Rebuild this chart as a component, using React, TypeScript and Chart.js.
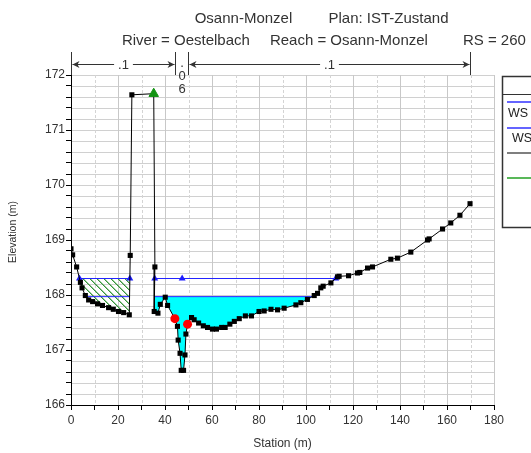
import React, { useEffect, useRef } from 'react';
import { Chart, registerables } from 'chart.js';

Chart.register(...registerables);

const FONT = "'Liberation Sans', Arial, Helvetica, sans-serif";

// Ground profile (station m, elevation m)
const stations = [0, 0.7, 2.4, 4.0, 4.7, 6.1, 7.5, 9.2, 11.3, 13.4, 16.0, 18.0, 20.2, 22.4, 24.8, 25.2, 25.9, 35.2, 35.7, 35.4, 37.0, 38.0, 40.1, 41.1, 44.2, 45.3, 45.6, 46.4, 46.9, 47.9, 48.5, 48.9, 49.6, 51.3, 52.4, 54.3, 56.3, 58.1, 60.2, 61.9, 64.1, 65.6, 67.6, 69.5, 71.6, 74.2, 76.8, 80.0, 82.2, 85.1, 87.9, 90.7, 95.7, 97.8, 100.6, 103.5, 104.9, 106.3, 107.3, 110.6, 113.4, 114.1, 118.1, 121.9, 122.9, 126.2, 128.3, 136.1, 138.9, 144.6, 151.7, 152.4, 158.1, 161.6, 165.5, 169.8];
const elevations = [168.84, 168.73, 168.51, 168.23, 168.13, 167.99, 167.91, 167.88, 167.84, 167.81, 167.77, 167.74, 167.70, 167.68, 167.64, 168.72, 171.64, 171.66, 168.51, 167.70, 167.67, 167.83, 167.96, 167.81, 167.57, 167.43, 167.18, 166.94, 166.63, 166.63, 166.91, 167.29, 167.47, 167.59, 167.55, 167.49, 167.44, 167.41, 167.38, 167.38, 167.41, 167.41, 167.47, 167.52, 167.57, 167.62, 167.62, 167.70, 167.71, 167.74, 167.73, 167.76, 167.82, 167.86, 167.92, 167.99, 168.03, 168.13, 168.16, 168.22, 168.33, 168.34, 168.35, 168.40, 168.41, 168.49, 168.51, 168.65, 168.67, 168.78, 169.00, 169.02, 169.20, 169.31, 169.45, 169.66];

// Water surfaces
const wsPF1 = 168.30;
const wsPF2 = 167.97;
const wsPF1ExtraStations = [47.3];

// Index ranges of the ground: left overbank pocket, main channel
const leftPocket = [0, 15];
const mainChannel = [18, 75];

// Bank stations and levee
const bankStations = [44.2, 49.6];
const leveeStations = [35.2];

// Manning's n
const nBreaks = [0, 44.2, 49.6, 169.8];
const nValues = ['.1', '.06', '.1'];

// Texts
const titleLine1 = ['Osann-Monzel', 'Plan: IST-Zustand'];
const titleLine2 = ['River = Oestelbach', 'Reach = Osann-Monzel', 'RS = 260'];
const xAxisTitle = 'Station (m)';
const yAxisTitle = 'Elevation (m)';
const legendLabels = ['WS PF 2', 'WS PF 1', 'Ground', 'Ineff'];

type P = { x: number; y: number | null };

function wetPolygon(level: number, i0: number, i1: number): P[] {
  const pts: P[] = [];
  for (let i = i0; i < i1; i++) {
    const x0 = stations[i], y0 = elevations[i], x1 = stations[i + 1], y1 = elevations[i + 1];
    if (y0 <= level) pts.push({ x: x0, y: y0 });
    if ((y0 - level) * (y1 - level) < 0) {
      const t = (level - y0) / (y1 - y0);
      pts.push({ x: x0 + t * (x1 - x0), y: level });
    }
  }
  if (elevations[i1] <= level) pts.push({ x: stations[i1], y: elevations[i1] });
  return pts;
}

function elevAt(s: number) {
  const i = stations.indexOf(s);
  return elevations[i];
}

export default function App() {
  const ref = useRef<HTMLCanvasElement>(null);

  useEffect(() => {
    const canvas = ref.current!;
    // hatch pattern
    const pc = document.createElement('canvas');
    pc.width = 7; pc.height = 7;
    const pctx = pc.getContext('2d')!;
    pctx.clearRect(0, 0, 7, 7);
    for (let i = 0; i < 7; i++) {
      pctx.fillStyle = '#35963a';
      pctx.fillRect(i, i, 1, 1);
      pctx.fillStyle = 'rgba(53,150,58,0.5)';
      pctx.fillRect((i + 1) % 7, i, 1, 1);
    }
    const pattern = canvas.getContext('2d')!.createPattern(pc, 'repeat')!;

    const ground = stations.map((x, i) => ({ x, y: elevations[i] }));

    const pocket1 = wetPolygon(wsPF1, leftPocket[0], leftPocket[1]);
    const pocket2 = wetPolygon(wsPF2, leftPocket[0], leftPocket[1]);
    const chan1 = wetPolygon(wsPF1, mainChannel[0], mainChannel[1]);
    const chan2 = wetPolygon(wsPF2, mainChannel[0], mainChannel[1]);

    const ws1Line: P[] = [
      { x: pocket1[0].x, y: wsPF1 },
      { x: pocket1[pocket1.length - 1].x, y: wsPF1 },
      { x: 30, y: null },
      { x: chan1[0].x, y: wsPF1 },
      ...wsPF1ExtraStations.map((x) => ({ x, y: wsPF1 })),
      { x: chan1[chan1.length - 1].x, y: wsPF1 },
    ];
    const ws2Line: P[] = [
      { x: pocket2[0].x, y: wsPF2 },
      { x: pocket2[pocket2.length - 1].x, y: wsPF2 },
      { x: 30, y: null },
      { x: chan2[0].x, y: wsPF2 },
      { x: chan2[chan2.length - 1].x, y: wsPF2 },
    ];

    const custom = {
      id: 'custom',
      beforeDatasetsDraw(chart: any) {
        const { ctx, chartArea } = chart;
        const xs = chart.scales.x, ys = chart.scales.y;
        ctx.save();
        ctx.lineWidth = 1;
        ys.ticks.forEach((t: any) => {
          if (Math.abs(t.value - 166) < 1e-6) return;
          const y = Math.round(ys.getPixelForValue(t.value)) + 0.5;
          ctx.strokeStyle = '#d0d0d0';
          ctx.setLineDash([]);
          ctx.beginPath();
          ctx.moveTo(chartArea.left + 1, y);
          ctx.lineTo(chartArea.right, y);
          ctx.stroke();
        });
        xs.ticks.forEach((t: any) => {
          if (t.value === 0) return;
          const x = Math.round(xs.getPixelForValue(t.value)) + 0.5;
          const major = Math.round(t.value) % 20 === 0;
          ctx.strokeStyle = major ? '#c8c8c8' : '#d4d4d4';
          ctx.setLineDash(major ? [] : [3, 2]);
          ctx.beginPath();
          ctx.moveTo(x, chartArea.top);
          ctx.lineTo(x, chartArea.bottom);
          ctx.stroke();
        });
        ctx.restore();
      },
      afterDraw(chart: any) {
        const { ctx, chartArea } = chart;
        const xs = chart.scales.x;
        ctx.save();
        // titles
        ctx.fillStyle = '#333';
        ctx.font = `15px ${FONT}`;
        ctx.textBaseline = 'middle';
        ctx.textAlign = 'left';
        const t1x = [194.7, 328.5];
        const t2x = [121.9, 269.9, 462.9];
        titleLine1.forEach((t, i) => ctx.fillText(t, t1x[i], 18.6));
        titleLine2.forEach((t, i) => ctx.fillText(t, t2x[i], 40.6));

        // axis titles
        ctx.font = `12px ${FONT}`;
        ctx.textAlign = 'center';
        ctx.fillText(xAxisTitle, (chartArea.left + chartArea.right) / 2, 444);
        ctx.save();
        ctx.translate(12.8, 232);
        ctx.rotate(-Math.PI / 2);
        ctx.font = `10.5px ${FONT}`;
        ctx.fillText(yAxisTitle, 0, 0);
        ctx.restore();

        // Manning's n annotations
        const ay = 64.5;
        ctx.strokeStyle = '#333';
        ctx.lineWidth = 1;
        const bx = nBreaks.map((b) => Math.round(xs.getPixelForValue(b)) + 0.5);
        bx.forEach((x) => {
          ctx.beginPath();
          ctx.moveTo(x, 52);
          ctx.lineTo(x, chartArea.top);
          ctx.stroke();
        });
        ctx.font = `13px ${FONT}`;
        for (let i = 0; i < nValues.length; i++) {
          const x0 = bx[i], x1 = bx[i + 1];
          const label = nValues[i];
          ctx.fillStyle = '#333';
          if (x1 - x0 > 30) {
            const cx = (x0 + x1) / 2;
            const w = ctx.measureText(label).width + 8;
            ctx.beginPath();
            ctx.moveTo(x0 + 1, ay);
            ctx.lineTo(cx - w / 2, ay);
            ctx.moveTo(cx + w / 2, ay);
            ctx.lineTo(x1 - 1, ay);
            ctx.stroke();
            ctx.beginPath();
            ctx.moveTo(x0 + 1, ay);
            ctx.lineTo(x0 + 8, ay - 3.5);
            ctx.lineTo(x0 + 6, ay);
            ctx.lineTo(x0 + 8, ay + 3.5);
            ctx.closePath();
            ctx.fill();
            ctx.beginPath();
            ctx.moveTo(x1 - 1, ay);
            ctx.lineTo(x1 - 8, ay - 3.5);
            ctx.lineTo(x1 - 6, ay);
            ctx.lineTo(x1 - 8, ay + 3.5);
            ctx.closePath();
            ctx.fill();
            ctx.textAlign = 'center';
            ctx.fillText(label, cx, ay + 0.5);
          } else {
            const cx = (x0 + x1) / 2;
            ctx.textAlign = 'center';
            label.split('').forEach((ch, k) => {
              ctx.fillText(ch, cx, 63 + k * 13);
            });
          }
        }

        // legend box (partially outside the canvas)
        ctx.fillStyle = '#fff';
        ctx.fillRect(502, 76, 60, 152);
        ctx.strokeStyle = '#333';
        ctx.lineWidth = 1.5;
        ctx.strokeRect(502.5, 76.5, 80, 151);
        ctx.lineWidth = 1;
        ctx.beginPath();
        ctx.moveTo(502, 94.5);
        ctx.lineTo(531, 94.5);
        ctx.stroke();
        const legendLines = [
          { y: 102, color: '#6464ff', w: 2 },
          { y: 128, color: '#6464ff', w: 2 },
          { y: 153, color: '#555', w: 1.5 },
          { y: 178, color: '#22a022', w: 1.5 },
        ];
        legendLines.forEach((l) => {
          ctx.strokeStyle = l.color;
          ctx.lineWidth = l.w;
          ctx.beginPath();
          ctx.moveTo(507, l.y);
          ctx.lineTo(531, l.y);
          ctx.stroke();
        });
        ctx.fillStyle = '#222';
        ctx.font = `12.5px ${FONT}`;
        ctx.textAlign = 'left';
        ctx.fillText(legendLabels[0], 508, 113.5);
        ctx.fillText(legendLabels[1], 512, 139);
        ctx.restore();
      },
    };

    const chart = new Chart(canvas, {
      type: 'line',
      data: {
        datasets: [
          {
            label: 'Levee',
            data: leveeStations.map((x) => ({ x, y: elevAt(x) })),
            showLine: false,
            pointStyle: 'triangle',
            pointRadius: 5.5,
            pointBackgroundColor: '#139313',
            pointBorderColor: '#139313',
            pointBorderWidth: 1,
            order: 0,
          },
          {
            label: 'Bank Sta',
            data: bankStations.map((x) => ({ x, y: elevAt(x) })),
            showLine: false,
            pointStyle: 'circle',
            pointRadius: 4.5,
            pointBackgroundColor: '#ff0000',
            pointBorderColor: '#ff0000',
            pointBorderWidth: 0,
            order: 1,
          },
          {
            label: legendLabels[2],
            data: ground,
            borderColor: '#000',
            borderWidth: 1,
            pointStyle: 'rect',
            pointRadius: (c: any) => (leveeStations.includes(stations[c.dataIndex]) ? 0 : 3.6),
            pointBackgroundColor: '#000',
            pointBorderColor: '#000',
            pointBorderWidth: 0,
            fill: false,
            order: 2,
          },
          {
            label: legendLabels[1],
            data: ws1Line as any,
            borderColor: '#2424ff',
            borderWidth: 1,
            pointStyle: 'triangle',
            pointRadius: 4,
            pointBackgroundColor: '#1c1cff',
            pointBorderColor: '#1c1cff',
            pointBorderWidth: 0,
            spanGaps: false,
            fill: false,
            order: 3,
          },
          {
            label: legendLabels[0],
            data: ws2Line as any,
            borderColor: '#2424ff',
            borderWidth: 1,
            pointRadius: 0,
            spanGaps: false,
            fill: false,
            order: 4,
          },
          {
            label: 'water',
            data: chan2 as any,
            borderColor: 'transparent',
            borderWidth: 0,
            backgroundColor: '#00ffff',
            pointRadius: 0,
            fill: 'shape',
            order: 5,
          },
          {
            label: legendLabels[3],
            data: pocket1 as any,
            borderColor: 'transparent',
            borderWidth: 0,
            backgroundColor: pattern as any,
            pointRadius: 0,
            fill: 'shape',
            order: 6,
          },
        ],
      },
      options: {
        responsive: false,
        animation: false,
        events: [],
        layout: { padding: { left: 0, top: 75, right: 37, bottom: 0 } },
        plugins: {
          legend: { display: false },
          tooltip: { enabled: false },
          title: { display: false },
        },
        scales: {
          x: {
            type: 'linear',
            min: 0,
            max: 180,
            afterFit: (s: any) => { s.height = 48; },
            border: { display: true, color: '#000', width: 1 },
            grid: { drawOnChartArea: false, drawTicks: true, tickLength: 5, tickColor: '#000' },
            ticks: {
              stepSize: 10,
              autoSkip: false,
              maxRotation: 0,
              padding: 3,
              color: '#333',
              font: { family: FONT, size: 12 },
              callback: (v: any) => (Math.round(v) % 20 === 0 ? String(Math.round(v)) : ''),
            },
          },
          y: {
            type: 'linear',
            min: 166,
            max: 172,
            afterFit: (s: any) => { s.width = 71; },
            border: { display: true, color: '#000', width: 1 },
            grid: { drawOnChartArea: false, drawTicks: true, tickLength: 5, tickColor: '#000' },
            ticks: {
              stepSize: 0.2,
              autoSkip: false,
              padding: 1,
              color: '#333',
              font: { family: FONT, size: 12 },
              callback: (v: any) => (Math.abs(v - Math.round(v)) < 1e-6 ? String(Math.round(v)) : ''),
            },
          },
        },
      },
      plugins: [custom],
    } as any);

    return () => chart.destroy();
  }, []);

  return (
    <div style={{ position: 'fixed', left: 0, top: 0, width: 531, height: 453, background: '#fff' }}>
      <canvas ref={ref} width={531} height={453} style={{ display: 'block' }} />
    </div>
  );
}
